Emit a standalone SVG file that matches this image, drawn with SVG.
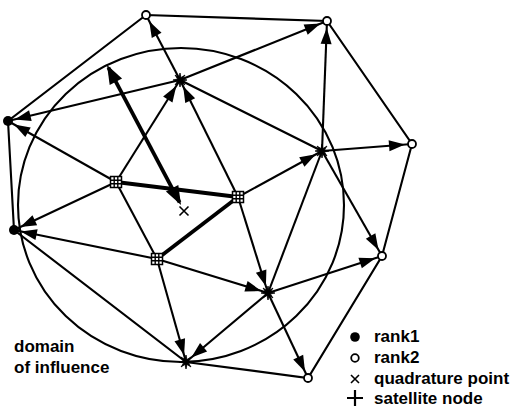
<svg xmlns="http://www.w3.org/2000/svg" xmlns:xlink="http://www.w3.org/1999/xlink" width="512" height="411" viewBox="0 0 512 411">
<style>
.e{stroke:#000;stroke-width:2.1;fill:none}
.a{stroke:#000;stroke-width:2.1;fill:none;marker-end:url(#ah)}
.tk{stroke:#000;stroke-width:3.8;fill:none}
.r2{fill:#fff;stroke:#000;stroke-width:1.8}
.r1{fill:#000}
.g{fill:#fff;stroke:#000;stroke-width:1.5}
.t{font-family:"Liberation Sans",Arial,Helvetica,sans-serif;font-size:17px;font-weight:bold;fill:#000}
</style>
<defs>
<marker id="ah" markerUnits="userSpaceOnUse" markerWidth="26" markerHeight="12" refX="23" refY="5.5" orient="auto" overflow="visible"><path d="M0,0 L16,5.5 L0,11 z" fill="#000"/></marker>
<marker id="ahT" markerUnits="userSpaceOnUse" markerWidth="20" markerHeight="14" refX="16" refY="7" orient="auto-start-reverse" overflow="visible"><path d="M0,0 L19,7 L0,14 z" fill="#000"/></marker>
<polygon id="star" points="7,0 2.4,1 5,5 1,2.4 0,7 -1,2.4 -5,5 -2.4,1 -7,0 -2.4,-1 -5,-5 -1,-2.4 0,-7 1,-2.4 5,-5 2.4,-1" fill="#000" stroke="#000" stroke-width="0.8"/>
<g id="grid"><rect x="-5.5" y="-5.5" width="11" height="11" class="g"/><path d="M-1.8,-5.5V5.5M1.8,-5.5V5.5M-5.5,-1.8H5.5M-5.5,1.8H5.5" stroke="#000" stroke-width="1.4"/></g>
</defs>
<ellipse cx="181" cy="205" rx="163" ry="157" class="e" stroke-width="1.9"/>
<g id="connectors">
<path class="e" d="M146,15 L327,21 L412,144 L382,256 L308,378 L186,362 L14,230 L8,121 Z"/>
<line class="e" x1="180" y1="80" x2="322" y2="151"/>
<line class="e" x1="322" y1="151" x2="268" y2="293"/>
<line class="tk" x1="116" y1="182" x2="238" y2="197"/>
<line class="tk" x1="238" y1="197" x2="157" y2="259"/>
<line class="e" stroke-width="2.8" x1="157" y1="259" x2="116" y2="182"/>
<line class="a" x1="180" y1="80" x2="146" y2="15"/>
<line class="a" x1="180" y1="80" x2="8" y2="121"/>
<line class="a" x1="180" y1="80" x2="327" y2="21"/>
<line class="a" x1="116" y1="182" x2="8" y2="121"/>
<line class="a" x1="116" y1="182" x2="180" y2="80"/>
<line class="a" x1="116" y1="182" x2="14" y2="230"/>
<line class="a" x1="238" y1="197" x2="180" y2="80"/>
<line class="a" x1="238" y1="197" x2="322" y2="151"/>
<line class="a" x1="238" y1="197" x2="268" y2="293"/>
<line class="a" x1="322" y1="151" x2="327" y2="21"/>
<line class="a" x1="322" y1="151" x2="412" y2="144"/>
<line class="a" x1="322" y1="151" x2="382" y2="256"/>
<line class="a" x1="157" y1="259" x2="14" y2="230"/>
<line class="a" x1="157" y1="259" x2="186" y2="362"/>
<line class="a" x1="157" y1="259" x2="268" y2="293"/>
<line class="a" x1="268" y1="293" x2="382" y2="256"/>
<line class="a" x1="268" y1="293" x2="308" y2="378"/>
<line class="a" x1="268" y1="293" x2="186" y2="362"/>
<line class="tk" x1="108.4" y1="67.7" x2="179.6" y2="202.3" marker-start="url(#ahT)" marker-end="url(#ahT)"/>
</g>
<g id="node-A"><circle cx="146" cy="15" r="4" class="r2"/></g>
<g id="node-B"><circle cx="327" cy="21" r="4" class="r2"/></g>
<g id="node-C"><circle cx="412" cy="144" r="4" class="r2"/></g>
<g id="node-D"><circle cx="382" cy="256" r="4" class="r2"/></g>
<g id="node-E"><circle cx="308" cy="378" r="4" class="r2"/></g>
<g id="node-F"><circle cx="8" cy="121" r="5" class="r1"/></g>
<g id="node-G"><circle cx="14" cy="230" r="5" class="r1"/></g>
<g id="node-H"><use xlink:href="#star" x="180" y="80"/></g>
<g id="node-I"><use xlink:href="#star" x="322" y="151"/></g>
<g id="node-J"><use xlink:href="#star" x="268" y="293"/></g>
<g id="node-K"><use xlink:href="#star" x="186" y="362"/></g>
<g id="node-L"><use xlink:href="#grid" x="116" y="182"/></g>
<g id="node-M"><use xlink:href="#grid" x="238" y="197"/></g>
<g id="node-N"><use xlink:href="#grid" x="157" y="259"/></g>
<g id="node-X"><path d="M179.5,206.5 L188.5,215.5 M188.5,206.5 L179.5,215.5" stroke="#000" stroke-width="1.6"/></g>
<g id="label-domain">
<text class="t" x="14" y="352">domain</text>
<text class="t" x="14" y="373">of influence</text>
</g>
<g id="legend">
<circle cx="355" cy="337" r="4.8" class="r1"/>
<text class="t" x="374" y="342">rank1</text>
<circle cx="355" cy="358" r="3.8" class="r2"/>
<text class="t" x="374" y="363">rank2</text>
<path d="M351,375 L359,383 M359,375 L351,383" stroke="#000" stroke-width="1.6"/>
<text class="t" x="374" y="384">quadrature point</text>
<path d="M347,398 H363 M355,390 V406" stroke="#000" stroke-width="2.2"/>
<text class="t" x="374" y="404">satellite node</text>
</g>
</svg>
